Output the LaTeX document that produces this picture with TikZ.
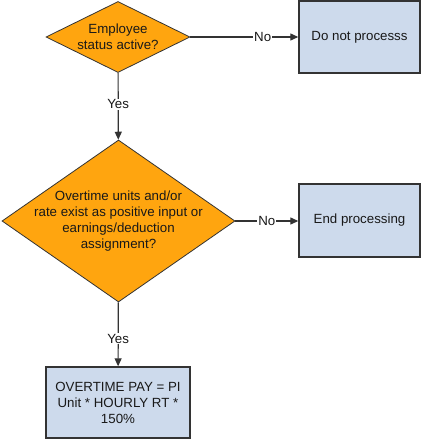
\documentclass[tikz,border=0pt]{standalone}
\usepackage{fontspec}
\setmainfont{Liberation Sans}
\usepackage{tikz}
\usetikzlibrary{arrows.meta, positioning, shapes.geometric}

\definecolor{decorange}{RGB}{255,165,15}
\definecolor{stepblue}{RGB}{205,218,236}
\definecolor{edgegray}{RGB}{51,51,51}

\begin{document}
\begin{tikzpicture}[
    x=1pt, y=-1pt,
    every node/.style={font=\fontsize{13.3}{16}\selectfont, text=black!90},
    % Decision diamonds
    decision/.style={draw=edgegray, fill=decorange, diamond, align=center, line width=0.8pt},
    % Process boxes
    stepbox/.style={draw=edgegray, fill=stepblue, rectangle, align=center, line width=1.4pt, inner sep=0pt},
    % Standard arrow
    arrow/.style={-{Triangle[length=8pt, width=7pt]}, draw=edgegray, line width=1.2pt},
    answer/.style={fill=white, inner sep=1pt}
]
\useasboundingbox (0,0) rectangle (421,441);

% === NODES ===

% First test
	\node [decision, minimum width=144pt, minimum height=71pt, shape aspect=2, inner sep=0pt]
	(active) at (118,37) {Employee\\status active?};
	\node [stepbox, minimum width=121pt, minimum height=72pt] (noproc) at (359.5,37) {Do not processs};

% Second test
	\node [decision, minimum width=233pt, minimum height=162pt, shape aspect=1.44,
	inner xsep=-10pt, inner ysep=-4pt]
	(overtime) at (118.5,221) {Overtime units and/or\\rate exist as positive input or\\earnings/deduction\\assignment?};
	\node [stepbox, minimum width=121pt, minimum height=73pt] (endproc) at (359.5,220.5) {End processing};

% Result
	\node [stepbox, minimum width=144pt, minimum height=71pt] (otpay) at (118,402.5)
	{OVERTIME PAY = PI\\Unit * HOURLY RT *\\150\%};

% === ARROWS ===

\draw[arrow] (active) -- node[answer, pos=0.67] {No} (noproc);
\draw[arrow] (active) -- node[answer, pos=0.47] {Yes} (overtime);
\draw[arrow] (overtime.east) -- node[answer, pos=0.5] {No} (endproc.west |- overtime.east);
\draw[arrow] (overtime) -- node[answer, pos=0.57] {Yes} (otpay);

\end{tikzpicture}
\end{document}
